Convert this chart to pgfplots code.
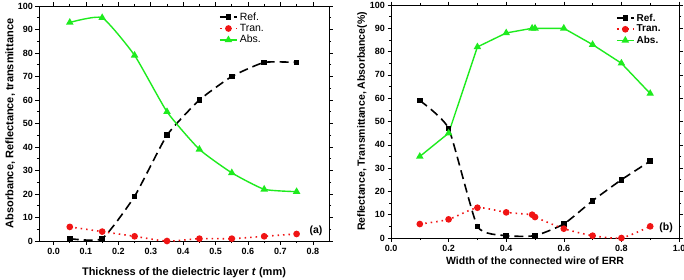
\documentclass[border=0pt]{standalone}
\usepackage{pgfplots}
\pgfplotsset{compat=1.18}
\usepackage{fontspec}
\setmainfont{Liberation Sans}
\definecolor{absg}{RGB}{30,235,30}
\definecolor{tranr}{RGB}{240,20,20}
\begin{document}
\begin{tikzpicture}
\useasboundingbox (0,0) rectangle (684pt,279pt);
\pgfplotsset{
  common/.style={
    scale only axis,
    tick align=outside,
    xtick pos=both, ytick pos=both,
    axis line style={line width=0.8pt},
    major tick length=3.5pt, minor tick length=2pt,
    every tick/.style={black,line width=0.6pt},
    ymin=0, ymax=100, ytick={0,10,...,100}, minor y tick num=1,
    minor x tick num=1,
    yticklabel style={xshift=1pt},
    /pgf/number format/assume math mode=true,
    legend cell align=left,
    legend style={draw=none, fill=none, font=\fontsize{10.5}{12}\selectfont, row sep=-1.5pt},
  },
  refs/.style={black, line width=1.6pt, dash pattern=on 9pt off 5pt, mark=square*, mark size=2pt, mark options={solid}},
  trans/.style={tranr, line width=1.6pt, dash pattern=on 1.5pt off 4pt, mark=*, mark size=2.5pt, mark options={solid}},
  abss/.style={absg, line width=1.4pt, mark=triangle*, mark size=3pt, mark options={solid}},
}
% left
\begin{axis}[common,
  at={(39pt,38pt)}, anchor=south west,
  width=290pt, height=235pt,
  xmin=-0.045, xmax=0.85,
  xtick={0,0.1,...,0.8},
  xticklabel style={font=\bfseries\fontsize{9}{10}\selectfont, /pgf/number format/.cd, fixed, fixed zerofill, precision=1},
  yticklabel style={font=\bfseries\fontsize{9}{10}\selectfont},
  xlabel={\bfseries Thickness of the dielectric layer \textit{t} (mm)},
  ylabel={\bfseries Absorbance, Reflectance, transmittance},
  xlabel style={font=\fontsize{11}{12}\selectfont, yshift=-6pt},
  ylabel style={font=\fontsize{11}{12}\selectfont, yshift=-4pt},
  legend style={at={(rel axis cs:0.61,0.99)}, anchor=north west},
]
\addplot[refs, smooth, tension=0.3] coordinates {(0.05,1) (0.15,1) (0.25,19) (0.35,45) (0.45,60) (0.55,70) (0.65,76) (0.75,76)};
\addlegendentry{Ref.}
\addplot[trans, smooth, tension=0.5] coordinates {(0.05,6) (0.15,4) (0.25,2) (0.35,0) (0.45,1) (0.55,1) (0.65,2) (0.75,3)};
\addlegendentry{Tran.}
\addplot[abss, smooth, tension=0.3] coordinates {(0.05,93) (0.15,95) (0.25,79) (0.35,55) (0.45,39) (0.55,29) (0.65,22) (0.75,21)};
\addlegendentry{Abs.}
\node[font=\bfseries\fontsize{10.5}{11}\selectfont] at (rel axis cs:0.955,0.045) {(a)};
\end{axis}
% right
\begin{axis}[common,
  at={(391pt,41pt)}, anchor=south west,
  width=288pt, height=233pt,
  xmin=0, xmax=1.0,
  xtick={0,0.2,...,1.0},
  xticklabel style={font=\bfseries\fontsize{9}{10}\selectfont, /pgf/number format/.cd, fixed, fixed zerofill, precision=1},
  yticklabel style={font=\bfseries\fontsize{9}{10}\selectfont},
  xlabel={Width of the connected wire of ERR},
  ylabel={Reflectance, Transmittance, Absorbance(\%)},
  xlabel style={font=\bfseries\fontsize{10.5}{12}\selectfont, yshift=1pt},
  ylabel style={font=\bfseries\fontsize{10.5}{12}\selectfont, yshift=-4pt},
  legend style={at={(rel axis cs:0.77,0.98)}, anchor=north west, font=\bfseries\fontsize{10}{12}\selectfont},
]
\addplot[refs, smooth, tension=0.3] coordinates {(0.1,59) (0.2,47) (0.3,5) (0.4,1) (0.5,1) (0.6,6) (0.7,16) (0.8,25) (0.9,33)};
\addlegendentry{Ref.}
\addplot[trans, smooth, tension=0.4] coordinates {(0.1,6) (0.2,8) (0.3,13) (0.4,11) (0.49,10) (0.5,9) (0.6,4) (0.7,1) (0.8,0) (0.9,5)};
\addlegendentry{Tran.}
\addplot[abss] coordinates {(0.1,35) (0.2,45) (0.3,82) (0.4,88) (0.49,90) (0.5,90) (0.6,90) (0.7,83) (0.8,75) (0.9,62)};
\addlegendentry{Abs.}
\node[font=\bfseries\fontsize{10.5}{11}\selectfont] at (rel axis cs:0.955,0.045) {(b)};
\end{axis}
\end{tikzpicture}
\end{document}
